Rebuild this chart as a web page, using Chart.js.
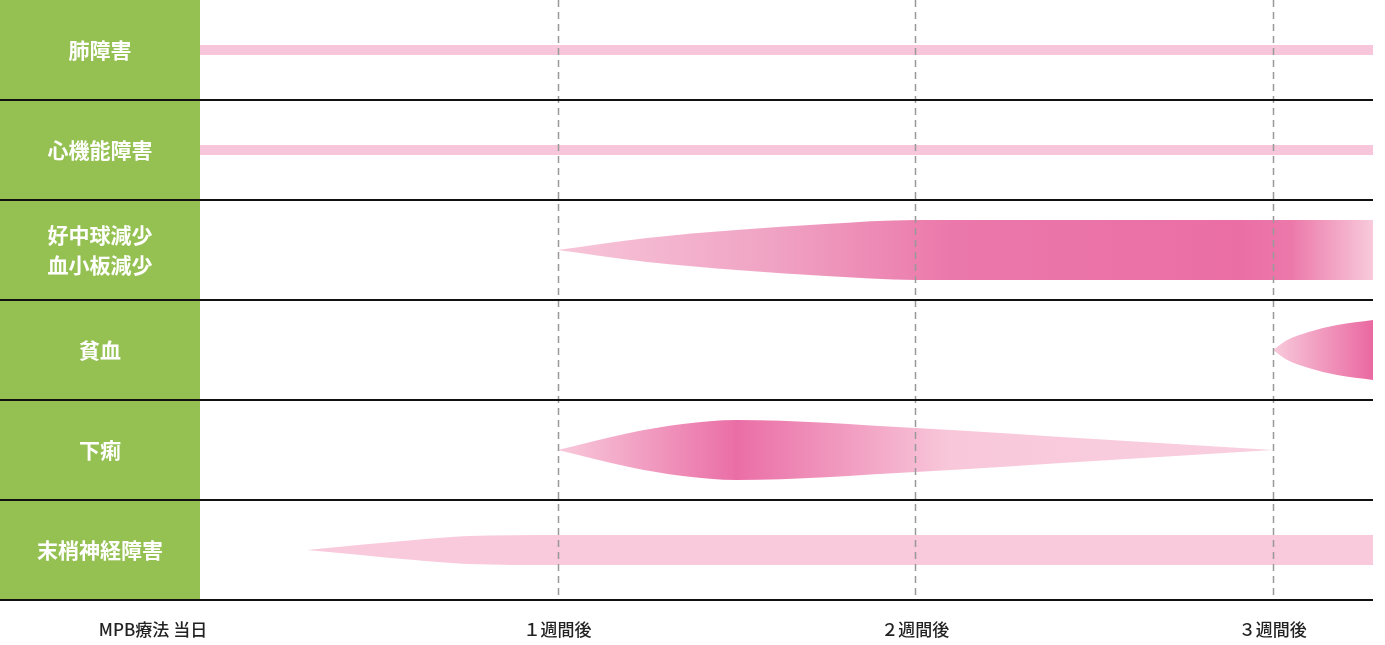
<!DOCTYPE html>
<html>
<head>
<meta charset="utf-8">
<script src="https://cdn.jsdelivr.net/npm/chart.js@4"></script>
<style>
  html, body { margin: 0; padding: 0; background: #fff; }
  #wrap { width: 1385px; height: 645px; }
</style>
</head>
<body>
<div id="wrap"><canvas id="chart"></canvas></div>
<script>
// rows (top to bottom)
const rowLabels = [['肺障害'], ['心機能障害'], ['好中球減少', '血小板減少'], ['貧血'], ['下痢'], ['末梢神経障害']];
const weekLabels = ['MPB療法 当日', '１週間後', '２週間後', '３週間後'];
const xMax = 3.28;

// shape outlines: [week, half height in row units]
const lungShape = [[0, 0.05], [3.28, 0.05]];
const heartShape = [[0, 0.05], [3.28, 0.05]];
const bloodShape = [[1, 0], [1.25, 0.12], [1.5, 0.2], [1.75, 0.26], [2, 0.3], [3.28, 0.3]];
const anemiaShape = [[3, 0], [3.04, 0.1], [3.1, 0.18], [3.18, 0.25], [3.28, 0.3]];
const diarrheaShape = [[1, 0], [1.2, 0.17], [1.35, 0.26], [1.5, 0.3], [2, 0.22], [2.5, 0.11], [3, 0]];
const neuroShape = [[0.3, 0], [0.6, 0.1], [0.75, 0.14], [1, 0.15], [3.28, 0.15]];

// gradient stops: [week, colour]
const lungColors = [[0, '#f8c6da'], [3.28, '#f8c6da']];
const bloodColors = [[1, '#f7c6d9'], [1.6, '#f0a3c4'], [2.1, '#eb78aa'], [2.9, '#ea6ea4'], [3.05, '#ec78aa'], [3.28, '#f8cadb']];
const anemiaColors = [[3, '#f8cadb'], [3.28, '#ea68a1']];
const diarrheaColors = [[1, '#f8cadb'], [1.5, '#ea6ea6'], [2.1, '#f8c8da'], [3, '#f9cfe0']];
const neuroColors = [[0.3, '#f9c9dc'], [3.28, '#f9c9dc']];

const shapes = [
    { row: 0, pts: lungShape, colors: lungColors },
    { row: 1, pts: heartShape, colors: lungColors },
    { row: 2, pts: bloodShape, colors: bloodColors },
    { row: 3, pts: anemiaShape, colors: anemiaColors },
    { row: 4, pts: diarrheaShape, colors: diarrheaColors },
    { row: 5, pts: neuroShape, colors: neuroColors },
];

function gradientFor(stops) {
    return function (context) {
        const chart = context.chart;
        const area = chart.chartArea;
        if (!area) return stops[0][1];
        const x = chart.scales.x;
        const g = chart.ctx.createLinearGradient(area.left, 0, area.right, 0);
        stops.forEach(([w, c]) => {
            const f = (x.getPixelForValue(w) - area.left) / (area.right - area.left);
            g.addColorStop(Math.min(1, Math.max(0, f)), c);
        });
        return g;
    };
}

const datasets = [];
shapes.forEach((s) => {
    const c = s.row + 0.5;
    const common = {
        pointRadius: 0,
        borderWidth: 0,
        cubicInterpolationMode: 'monotone',
    };
    datasets.push({
        ...common,
        data: s.pts.map(([w, h]) => ({ x: w, y: c - h })),
        fill: '+1',
        backgroundColor: gradientFor(s.colors),
    });
    datasets.push({
        ...common,
        data: s.pts.map(([w, h]) => ({ x: w, y: c + h })),
        fill: false,
    });
});

const framePlugin = {
    id: 'frame',
    beforeDraw(chart) {
        const { ctx, chartArea } = chart;
        ctx.save();
        ctx.fillStyle = '#95c152';
        ctx.fillRect(0, chartArea.top, chartArea.left, chartArea.bottom - chartArea.top);
        ctx.restore();
    },
    afterDatasetsDraw(chart) {
        const { ctx, chartArea, scales } = chart;
        ctx.save();
        // dashed week lines
        ctx.strokeStyle = '#999';
        ctx.lineWidth = 1.5;
        ctx.setLineDash([7, 5]);
        [1, 2, 3].forEach((w) => {
            const px = Math.round(scales.x.getPixelForValue(w)) + 0.5;
            ctx.beginPath();
            ctx.moveTo(px, chartArea.top);
            ctx.lineTo(px, chartArea.bottom);
            ctx.stroke();
        });
        ctx.setLineDash([]);
        // row separators
        ctx.strokeStyle = '#111';
        ctx.lineWidth = 2;
        for (let r = 1; r <= rowLabels.length; r++) {
            const py = Math.round(scales.y.getPixelForValue(r));
            ctx.beginPath();
            ctx.moveTo(0, py);
            ctx.lineTo(chartArea.right, py);
            ctx.stroke();
        }
        ctx.textAlign = 'center';
        ctx.textBaseline = 'middle';
        // row labels
        ctx.fillStyle = '#fff';
        ctx.font = 'bold 21px "Noto Sans CJK JP", sans-serif';
        rowLabels.forEach((lines, i) => {
            const cy = scales.y.getPixelForValue(i + 0.5);
            lines.forEach((t, j) => {
                ctx.fillText(t, chartArea.left / 2, cy + (j - (lines.length - 1) / 2) * 30);
            });
        });
        // week labels
        ctx.fillStyle = '#222';
        ctx.font = '500 17px "Noto Sans CJK JP", "Noto Sans", sans-serif';
        weekLabels.forEach((t, i) => {
            const px = scales.x.getPixelForValue(i) + (i === 0 ? -47 : 0);
            ctx.fillText(t, px, chartArea.bottom + 30);
        });
        ctx.restore();
    },
};

new Chart(document.getElementById('chart'), {
    type: 'line',
    data: { datasets },
    options: {
        responsive: true,
        maintainAspectRatio: false,
        animation: false,
        layout: { padding: { top: 0, right: 12, bottom: 45, left: 200 } },
        plugins: { legend: { display: false }, tooltip: { enabled: false } },
        scales: {
            x: { type: 'linear', min: 0, max: xMax, display: false },
            y: { type: 'linear', min: 0, max: 6, reverse: true, display: false },
        },
    },
    plugins: [framePlugin],
});
</script>
</body>
</html>
